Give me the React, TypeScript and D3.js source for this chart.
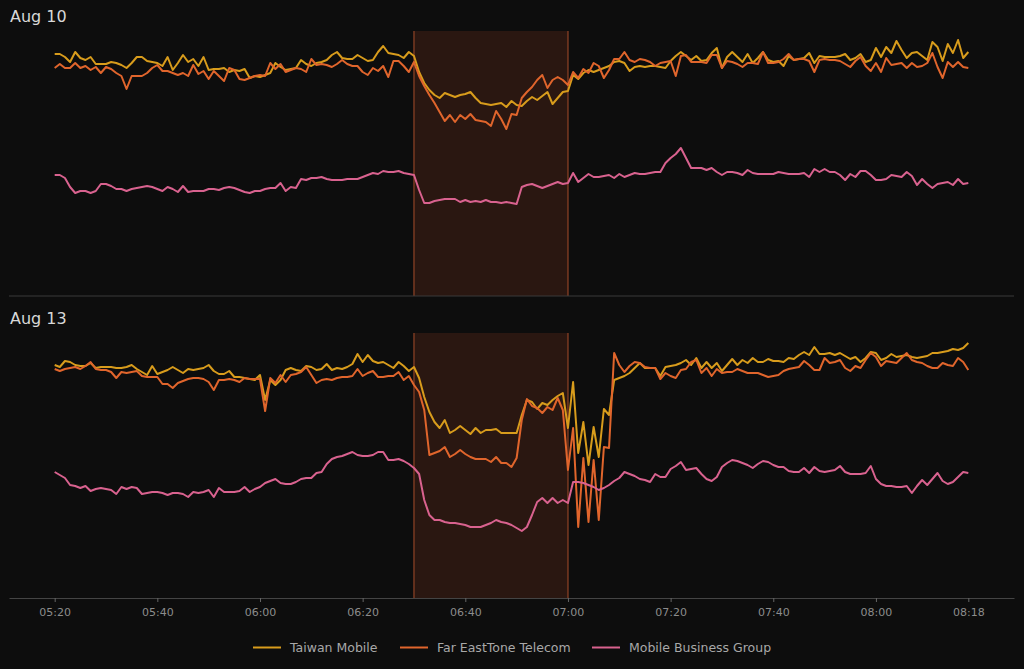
import * as d3 from "d3";
import { useEffect, useRef } from "react";

// one sample per minute, starting at startTime
const startTime = "05:20";
const tickLabels = ["05:20", "05:40", "06:00", "06:20", "06:40", "07:00", "07:20", "07:40", "08:00", "08:18"];
const outageWindow = ["06:30", "07:00"];
const panelTitles = ["Aug 10", "Aug 13"];
const seriesNames = ["Taiwan Mobile", "Far EastTone Telecom", "Mobile Business Group"];
const seriesColors = ["#d89c1c", "#e0652c", "#d9628f"];

const aug10TaiwanMobile = [
  121, 121, 119.5, 117, 122, 119, 118, 119.5, 116, 116,
  116, 117, 116.5, 115.5, 114, 116.5, 119.5, 119.5, 117.5, 117,
  116.5, 115, 119.5, 113, 116.5, 120.5, 117, 118.5, 115, 119.5,
  113, 113.5, 113.5, 114, 112, 113, 112.5, 113.5, 109, 110,
  109.5, 110.5, 111.5, 116.5, 114.5, 113, 113.5, 114, 118, 116,
  115, 116.5, 117, 118, 120.5, 122, 119, 118.5, 118.5, 120.5,
  119, 117.5, 118, 122, 125, 121.5, 121, 120.5, 119, 122,
  120, 112, 106.5, 103, 100.5, 99, 101.5, 100.5, 99.5, 100.5,
  101, 102, 99, 96.5, 96, 95.5, 96, 96.5, 94.5, 97.5,
  95.5, 95, 97.5, 99.5, 98, 100, 102, 96, 99, 102,
  102.5, 110.5, 108.5, 111.5, 113, 112, 113, 114, 115, 117,
  117.5, 116.5, 112.5, 114.5, 115, 114.5, 115, 115, 114.5, 114,
  117.5, 120, 122, 120, 118, 120, 117.5, 118, 121.5, 124,
  114, 119.5, 122, 119.5, 117, 121, 116.5, 119, 122, 118,
  117, 117.5, 115, 120, 118, 118.5, 119, 121.5, 116.5, 120,
  119.5, 119.5, 119.5, 120, 121, 118, 119, 121, 117, 118,
  124, 119.5, 124.5, 121.5, 127.5, 123, 119, 121.5, 122, 120,
  118, 127, 124.5, 117.5, 126, 121.5, 128, 119, 122,
];
const aug10FarEasTone = [
  114, 116, 114, 114, 116.5, 114, 115, 113, 114.5, 111.5,
  114.5, 113.5, 111.5, 110, 103.5, 110, 110, 110, 111.5, 114,
  115.5, 112.5, 112.5, 111.5, 110.5, 111.5, 110, 115.5, 111, 112.5,
  108.5, 112.5, 110, 107.5, 114, 113, 108.5, 108, 109, 110,
  110.5, 110, 116.5, 113.5, 116, 112, 113, 114, 113.5, 112,
  118.5, 115.5, 116, 115.5, 114.5, 116, 118, 116, 115, 115,
  112, 110.5, 114, 112.5, 115, 109.5, 117.5, 117.5, 115, 112,
  117, 110, 105, 100.5, 96.5, 92, 87.5, 90.5, 87, 90.5,
  88.5, 91, 88, 87.5, 87, 85, 92.5, 88.5, 83.5, 91,
  90.5, 99, 102, 104.5, 108, 110.5, 104, 108, 109.5, 108,
  105.5, 112, 109, 113.5, 111.5, 116.5, 115, 109, 113, 118.5,
  118.5, 122, 118, 117, 118.5, 118, 117, 115, 116.5, 117,
  117.5, 110, 120, 120.5, 117, 117, 117, 116.5, 120.5, 120.5,
  114, 117.5, 117, 116, 114.5, 116.5, 116.5, 116, 122, 116.5,
  116.5, 117, 118.5, 121, 118, 118.5, 118.5, 117.5, 112, 118,
  118.5, 118, 118, 117.5, 116, 114.5, 117.5, 119.5, 115, 112.5,
  116.5, 112, 119, 115.5, 116, 116.5, 114, 116.5, 114.5, 115,
  116.5, 121.5, 114.5, 109, 117, 114.5, 117, 114.5, 114,
];
const aug10MobileBusiness = [
  60.5, 60.5, 59, 54.5, 51.5, 52.5, 52.5, 51.5, 52.5, 56,
  56, 55, 53.5, 53.5, 52.5, 53.5, 54, 54.5, 55, 54.5,
  53.5, 52.5, 54.5, 53.5, 52, 55, 52, 52.5, 52.5, 52.5,
  53.5, 53.5, 53, 54, 54.5, 54, 53, 52, 51.5, 52.5,
  52.5, 53.5, 54, 54, 56.5, 52.5, 54.5, 54, 58.5, 58,
  59, 59, 59.5, 58.5, 58, 58, 58, 58.5, 58.5, 58.5,
  59.5, 60.5, 61.5, 61, 62.5, 62, 62, 62.5, 61.5, 61,
  60.5, 53, 46.5, 46.5, 47.5, 48, 48.5, 48.5, 48.5, 47,
  48, 47, 47.5, 47, 48, 47, 47, 46.5, 47, 46.5,
  46, 54.5, 55.5, 56, 55, 54, 55, 56, 57, 56,
  56.5, 61.5, 57, 59, 61, 59.5, 59.5, 60, 60.5, 59,
  61, 59.5, 60.5, 61.5, 61, 61, 61.5, 62, 62, 66.5,
  69, 71, 74, 69, 64, 64, 64, 63, 64, 62,
  60.5, 62, 62, 61.5, 60.5, 63, 61.5, 61, 61, 61,
  61, 62, 61.5, 61, 61, 61, 61.5, 59.5, 63.5, 62,
  63.5, 62, 62, 60.5, 58, 61, 59.5, 62.5, 62.5, 60.5,
  58, 58, 58.5, 60.5, 60, 59.5, 62, 60, 55.5, 58.5,
  56, 54, 56, 56.5, 57, 55.5, 58.5, 56, 56.5,
];

const aug13TaiwanMobile = [
  116.5, 115.5, 118.5, 118, 116.5, 116, 116, 117.5, 115, 115.5,
  115.5, 115.5, 115, 115, 115.5, 116.5, 114.5, 113, 111.5, 116,
  112, 113, 114, 115.5, 114, 112.5, 114.5, 114, 114.5, 115,
  116.5, 113.5, 112, 112, 113.5, 110.5, 110.5, 110, 109.5, 109,
  111.5, 99, 109, 106.5, 109, 114, 115, 114, 113.5, 116,
  115.5, 114, 114.5, 117, 114, 115, 114.5, 115.5, 117, 122,
  118, 121.5, 118.5, 117.5, 118, 116.5, 115, 118, 116, 113.5,
  115.5, 110, 100.5, 93, 88, 85, 89, 82.5, 84, 86,
  84, 82, 85, 82.5, 84, 84, 84.5, 82.5, 82.5, 82.5,
  82.5, 91.5, 99, 98, 94.5, 97.5, 96.5, 99, 101, 102.5,
  85, 108, 72.5, 88, 66.5, 85.5, 70.5, 94.5, 91.5, 109,
  110, 111, 112.5, 115, 117.5, 115, 115, 115, 111, 115.5,
  116, 116.5, 117.5, 119, 116.5, 120, 115, 118, 115, 117.5,
  113.5, 116.5, 119.5, 116.5, 119, 117.5, 120, 118, 118, 119.5,
  118.5, 118.5, 118, 120, 119.5, 121.5, 123, 121.5, 125.5, 122,
  122, 122.5, 121.5, 122.5, 121, 119.5, 120.5, 118, 120, 123,
  122.5, 119, 120, 122, 120.5, 121, 121.5, 120.5, 120, 120.5,
  121, 122.5, 122.5, 123, 123.5, 124.5, 124, 125, 127.5,
];
const aug13FarEasTone = [
  114.5, 113.5, 114.5, 115, 115.5, 114.5, 116, 118, 114.5, 114,
  114, 113, 110, 113, 112.5, 113, 113.5, 111, 110.5, 110.5,
  110.5, 107, 107, 105, 107.5, 108.5, 109.5, 110, 110, 109.5,
  108, 104, 109, 109, 109.5, 109, 108, 110, 109.5, 109.5,
  109.5, 93.5, 110, 107.5, 111.5, 108, 111.5, 112, 113, 115.5,
  111.5, 107.5, 109, 109.5, 109, 110, 110.5, 110.5, 111, 114.5,
  111, 112.5, 113.5, 110.5, 110.5, 111, 111, 113, 109, 111,
  106.5, 103, 94, 71.5, 72.5, 73.5, 75.5, 70.5, 72, 74,
  72, 70.5, 69.5, 69.5, 69.5, 68, 70.5, 67.5, 67.5, 65.5,
  70, 89, 99.5, 96, 95, 92.5, 95.5, 94, 100, 94,
  64, 85, 35.5, 70, 38, 69, 39, 75.5, 75, 122.5,
  116.5, 113, 116, 118, 117.5, 115.5, 115, 115, 109.5, 112.5,
  111, 110, 114, 114.5, 118, 119, 112.5, 115, 111, 114.5,
  112.5, 113, 113, 114.5, 113.5, 112.5, 112.5, 112.5, 111.5, 110.5,
  111, 111.5, 113.5, 114.5, 115, 115.5, 118.5, 116.5, 114, 114,
  120, 117.5, 118, 119, 115, 113.5, 116, 115, 119, 122.5,
  120.5, 116, 118.5, 118, 117.5, 120, 122.5, 119, 118, 117.5,
  116, 115, 115, 117.5, 116.5, 116, 120, 118, 114,
];
const aug13MobileBusiness = [
  63, 61.5, 60, 56.5, 56, 55, 56, 53.5, 54.5, 55,
  54.5, 54, 52, 55.5, 54.5, 55.5, 55, 52, 52.5, 53,
  53, 52.5, 51.5, 52.5, 52.5, 52, 50.5, 53, 52.5, 53,
  54, 50.5, 55, 53, 53, 53, 53.5, 55.5, 53, 54.5,
  55.5, 57.5, 58.5, 59.5, 57.5, 57, 57, 58, 59.5, 60,
  60, 62.5, 63, 67, 69.5, 70.5, 71, 72, 73, 71.5,
  71, 71, 71.5, 73, 73, 69, 69, 69.5, 68.5, 67,
  65, 62, 49, 41.5, 39, 39, 38, 37.5, 37.5, 37,
  36.5, 35.5, 35.5, 35.5, 36.5, 37.5, 39, 38, 37.5, 36.5,
  35, 33.5, 35.5, 41.5, 48, 50, 47.5, 50, 47.5, 49,
  47.5, 58, 58, 57.5, 56.5, 55.5, 54, 55, 56.5, 58.5,
  60, 63, 62, 61, 59.5, 59, 58, 62, 60.5, 60.5,
  64.5, 66, 68, 64, 64.5, 65, 62, 59.5, 58.5, 60.5,
  65.5, 67.5, 69, 68.5, 67.5, 66.5, 65, 67, 68.5, 68,
  66.5, 65.5, 65.5, 63.5, 63, 63, 65, 62.5, 65.5, 63.5,
  63, 63.5, 64, 66, 63, 62, 62, 62, 62.5, 66,
  59.5, 57, 56, 56, 55.5, 55.5, 56, 52.5, 56, 59,
  56.5, 59.5, 62.5, 58.5, 57, 58, 60.5, 63, 62.5,
];

const toMinutes = (t: string) => {
  const [h, m] = t.split(":").map(Number);
  return h * 60 + m;
};

export default function App() {
  const svgRef = useRef<SVGSVGElement | null>(null);
  const width = 1024;
  const height = 669;
  const font = "DejaVu Sans, Verdana, sans-serif";

  useEffect(() => {
    if (!svgRef.current) return;
    const svg = d3.select(svgRef.current);
    svg.selectAll("*").remove();

    svg.append("rect").attr("width", width).attr("height", height).attr("fill", "#0d0d0d");

    const t0 = toMinutes(startTime);
    const t1 = toMinutes(tickLabels[tickLabels.length - 1]);
    const pad = (t1 - t0) * 0.05;
    const x = d3.scaleLinear().domain([t0 - pad, t1 + pad]).range([9, 1014]);

    const panels = [
      { title: panelTitles[0], top: 31, bottom: 296, titleY: 22, series: [aug10TaiwanMobile, aug10FarEasTone, aug10MobileBusiness] },
      { title: panelTitles[1], top: 333, bottom: 598, titleY: 324, series: [aug13TaiwanMobile, aug13FarEasTone, aug13MobileBusiness] },
    ];

    panels.forEach((p, pi) => {
      const y = d3.scaleLinear().domain([0, 132.5]).range([p.bottom, p.top]);
      const g = svg.append("g");

      // outage window
      const xa = x(toMinutes(outageWindow[0]));
      const xb = x(toMinutes(outageWindow[1]));
      g.append("rect")
        .attr("x", xa)
        .attr("y", p.top)
        .attr("width", xb - xa)
        .attr("height", p.bottom - p.top)
        .attr("fill", "#2a1711");
      [xa, xb].forEach((xv) =>
        g.append("line")
          .attr("x1", xv).attr("x2", xv)
          .attr("y1", p.top).attr("y2", p.bottom)
          .attr("stroke", "#7a3a22")
          .attr("stroke-width", 1.5),
      );

      if (pi === 0) {
        g.append("line")
          .attr("x1", 9).attr("x2", 1014)
          .attr("y1", p.bottom).attr("y2", p.bottom)
          .attr("stroke", "#3a3a3a")
          .attr("stroke-width", 1);
      }

      g.append("text")
        .attr("x", 10)
        .attr("y", p.titleY)
        .attr("fill", "#d8d8d8")
        .style("font-family", font)
        .style("font-size", "16px")
        .text(p.title);

      const line = d3
        .line<number>()
        .x((_, i) => x(t0 + i))
        .y((d) => y(d));

      p.series.forEach((vals, si) => {
        g.append("path")
          .datum(vals)
          .attr("fill", "none")
          .attr("stroke", seriesColors[si])
          .attr("stroke-width", 2)
          .attr("stroke-linejoin", "round")
          .attr("d", line);
      });
    });

    // time axis
    const axis = d3
      .axisBottom(x)
      .tickValues(tickLabels.map(toMinutes))
      .tickFormat((_, i) => tickLabels[i])
      .tickSize(4)
      .tickSizeOuter(0)
      .tickPadding(6);
    const ax = svg.append("g").attr("transform", "translate(0,598)").call(axis);
    ax.select(".domain").attr("stroke", "#444");
    ax.selectAll(".tick line").attr("stroke", "#666");
    ax.selectAll(".tick text")
      .attr("fill", "#8c8c8c")
      .style("font-family", font)
      .style("font-size", "11px");

    // legend
    const legendX = [253, 400, 592];
    const lg = svg.append("g");
    seriesNames.forEach((name, i) => {
      lg.append("line")
        .attr("x1", legendX[i]).attr("x2", legendX[i] + 28)
        .attr("y1", 647.5).attr("y2", 647.5)
        .attr("stroke", seriesColors[i])
        .attr("stroke-width", 2);
      lg.append("text")
        .attr("x", legendX[i] + 37)
        .attr("y", 652)
        .attr("fill", "#a8a8a8")
        .style("font-family", font)
        .style("font-size", "12.5px")
        .text(name);
    });
  }, []);

  return (
    <svg
      ref={svgRef}
      width={width}
      height={height}
      style={{ position: "absolute", left: 0, top: 0, display: "block" }}
    />
  );
}
